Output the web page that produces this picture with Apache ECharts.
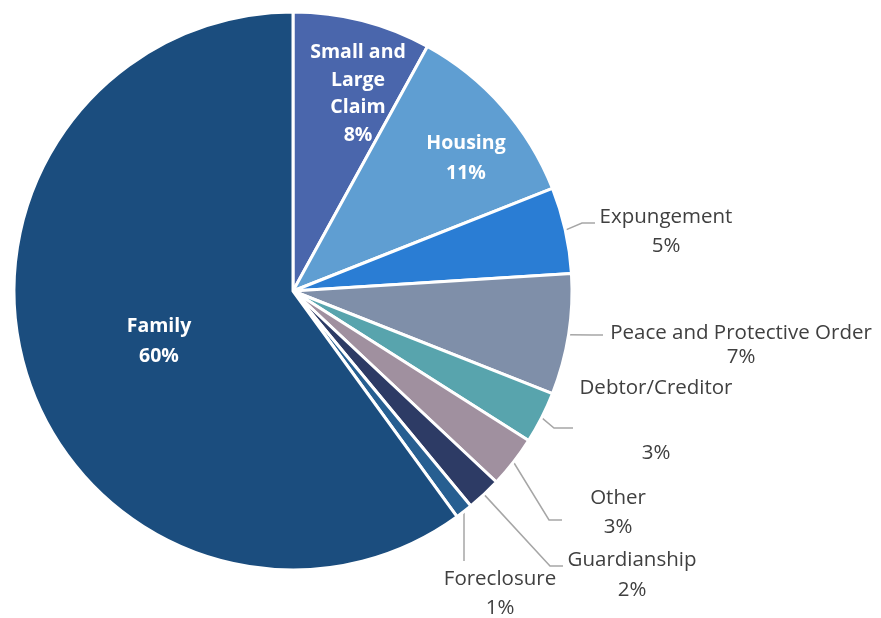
<!DOCTYPE html>
<html>
<head>
<meta charset="utf-8">
<title>Cases by Type</title>
<script src="https://cdn.jsdelivr.net/npm/echarts@6/dist/echarts.min.js"></script>
<style>
  html, body { margin: 0; padding: 0; background: #ffffff; }
  #chart { width: 881px; height: 618px; }
</style>
</head>
<body>
<div id="chart"></div>
<script>
// Case types, clockwise from 12 o'clock
const categories = [
  'Small and Large Claim',
  'Housing',
  'Expungement',
  'Peace and Protective Order',
  'Debtor/Creditor',
  'Other',
  'Guardianship',
  'Foreclosure',
  'Family'
];

// Share of cases, percent
const shares = [8, 11, 5, 7, 3, 3, 2, 1, 60];

// Slice fills
const sliceColors = [
  '#4A66AC', '#5F9ED2', '#2A7DD4', '#7F8FA9', '#58A4AD',
  '#A0909F', '#2D3B65', '#275F91', '#1B4D7E'
];

// Label placement per slice: centre of the text block, line spacing,
// and for outside labels the bend/end of the leader line.
const labelPlacement = [
  { inside: true, x: 358, y: 94, lh: 27.5, wrap: 'Small and\nLarge\nClaim' },
  { inside: true, x: 466, y: 158, lh: 30 },
  { x: 666, y: 232, lh: 29, bend: [582, 223], end: [595, 223] },
  { x: 741, y: 345, lh: 24, bend: [592, 335], end: [603, 335] },
  { x: 656, y: 421, lh: 32.5, gap: true, bend: [554, 428], end: [573, 428] },
  { x: 618, y: 513, lh: 29, bend: [549, 520], end: [562, 520] },
  { x: 632, y: 575, lh: 30, bend: [550, 566], end: [563, 566] },
  { x: 500, y: 594, lh: 29, vertical: true, endY: 561 },
  { inside: true, x: 159, y: 341, lh: 30 }
];

const FONT = '"Open Sans", "Noto Sans", sans-serif';

const data = categories.map((name, i) => {
  const p = labelPlacement[i];
  const shownName = p.wrap || name;
  const text = shownName + (p.gap ? '\n \n' : '\n') + shares[i] + '%';
  return {
    name: name,
    value: shares[i],
    itemStyle: { color: sliceColors[i] },
    label: p.inside ? {
      position: 'inside',
      formatter: () => text,
      color: '#ffffff',
      fontWeight: 'bold',
      fontSize: 19.5,
      lineHeight: p.lh,
      fontFamily: FONT
    } : {
      position: 'outside',
      formatter: () => text,
      color: '#404040',
      fontSize: 20.5,
      lineHeight: p.lh,
      fontFamily: FONT
    },
    labelLine: { show: !p.inside }
  };
});

const chart = echarts.init(document.getElementById('chart'), null, { renderer: 'canvas' });

chart.setOption({
  animation: false,
  backgroundColor: '#ffffff',
  series: [{
    type: 'pie',
    center: [293, 291],
    radius: [0, 279],
    startAngle: 90,
    clockwise: true,
    avoidLabelOverlap: false,
    data: data,
    itemStyle: { borderColor: '#ffffff', borderWidth: 3 },
    label: { show: true, align: 'center' },
    labelLine: {
      show: true,
      length: 10,
      length2: 10,
      lineStyle: { color: '#A6A6A6', width: 1.5 }
    },
    emphasis: { disabled: true },
    labelLayout: function (params) {
      const p = labelPlacement[params.dataIndex];
      const out = { x: p.x, y: p.y, align: 'center', verticalAlign: 'middle' };
      if (!p.inside && params.labelLinePoints) {
        const start = params.labelLinePoints[0];
        if (p.vertical) {
          out.labelLinePoints = [
            [start[0], start[1]],
            [start[0], (start[1] + p.endY) / 2],
            [start[0], p.endY]
          ];
        } else {
          out.labelLinePoints = [[start[0], start[1]], p.bend, p.end];
        }
      }
      return out;
    }
  }]
});
</script>
</body>
</html>
